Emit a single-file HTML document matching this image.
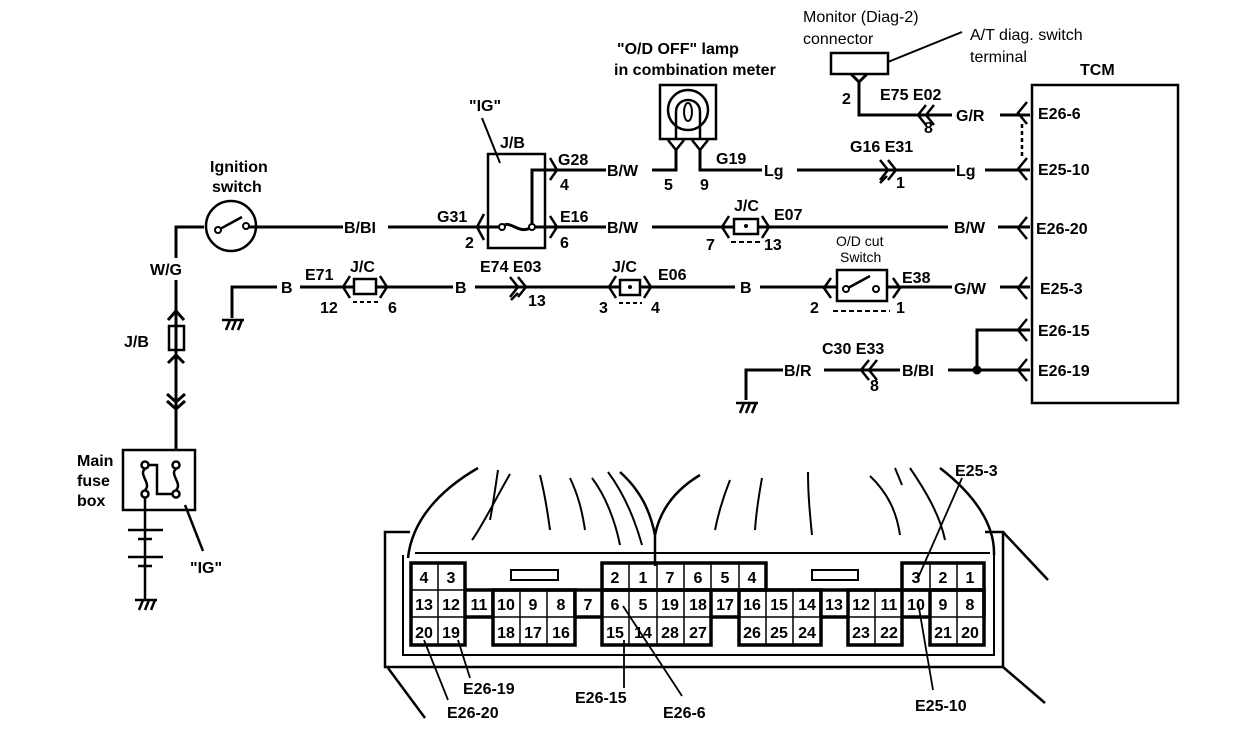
<!DOCTYPE html>
<html><head><meta charset="utf-8">
<style>
html,body{margin:0;padding:0;background:#fff;}
svg{display:block;}
text{font-family:"Liberation Sans",sans-serif;font-weight:bold;font-size:16px;fill:#000;}
.n{font-weight:normal;}
</style></head>
<body>
<svg width="1248" height="748" viewBox="0 0 1248 748" xmlns="http://www.w3.org/2000/svg">
<g fill="none" stroke="#000" stroke-width="3" stroke-linecap="butt" stroke-linejoin="miter">
<path d="M204,227 H176 V258 M176,280 V450"/>
<path d="M168,320 L176,311 L184,320 M168,363 L176,355 L184,363 M167,394 L176,402 L185,394 M167,401 L176,409 L185,401"/>
<rect x="169" y="326" width="15" height="24" stroke-width="2.5"/>
<line x1="176" y1="330" x2="176" y2="347" stroke-width="2"/>
<rect x="123" y="450" width="72" height="60" stroke-width="2.5"/>
<g stroke-width="2.5">
<circle cx="145" cy="465" r="3.5" fill="#fff"/><circle cx="145" cy="494" r="3.5" fill="#fff"/>
<circle cx="176" cy="465" r="3.5" fill="#fff"/><circle cx="176" cy="494" r="3.5" fill="#fff"/>
<path d="M145,469 C138,474 152,484 145,490 M176,469 C169,474 183,484 176,490"/>
<path d="M149,465 H157 V494 H172"/>
<path d="M145,498 V600"/>
<path d="M128,530 H163 M138,539 H152 M128,557 H163 M138,566 H152"/>
<path d="M185,505 L203,551"/>
</g>
<circle cx="231" cy="226" r="25" stroke-width="2.5"/>
<circle cx="218" cy="230" r="3" fill="#fff" stroke-width="2"/><circle cx="246" cy="226" r="3" fill="#fff" stroke-width="2"/>
<line x1="220" y1="229" x2="242" y2="217" stroke-width="2.5"/>
<path d="M249,227 H343 M388,227 H502"/>
<rect x="488" y="154" width="57" height="94" stroke-width="2.5"/>
<path d="M482,118 L500,163" stroke-width="2"/>
<path d="M532,227 V170 H606 M652,170 H676 V150 M700,150 V170 H762 M797,170 H955 M985,170 H1030"/>
<path d="M502,227 C510,218 518,236 532,227 M532,227 H606 M652,227 H948 M998,227 H1030" stroke-width="3"/>
<circle cx="502" cy="227" r="3" fill="#fff" stroke-width="2"/><circle cx="532" cy="227" r="3" fill="#fff" stroke-width="2"/>
<path d="M484,214 L477,227 L484,240" stroke-width="2.5"/>
<path d="M550,158 L557,170 L550,180 M550,216 L557,227 L550,238" stroke-width="2.5"/>
<rect x="660" y="85" width="56" height="54" stroke-width="2.5"/>
<circle cx="688" cy="110" r="20" stroke-width="2.5"/>
<path d="M676,139 V112 C676,96 700,96 700,112 V139" stroke-width="2.5"/>
<ellipse cx="688" cy="112" rx="4" ry="9" stroke-width="2"/>
<path d="M668,140 L676,150 L684,140 M692,140 L700,150 L708,140" stroke-width="2.5"/>
<path d="M880,160 L888,170 L880,180 M888,160 L896,170 L888,180 M880,183 L887,176" stroke-width="2.5"/>
<rect x="831" y="53" width="57" height="21" stroke-width="2.5"/>
<path d="M888,62 L962,32" stroke-width="2"/>
<path d="M851,74 L859,82 L867,74 M859,80 V115 H952 M1000,115 H1030"/>
<path d="M926,105 L918,115 L926,125 M934,105 L926,115 L934,125" stroke-width="2.5"/>
<rect x="1032" y="85" width="146" height="318" stroke-width="2.5"/>
<g stroke-width="2.5">
<path d="M1027,102 L1018,113 L1027,124 M1027,158 L1018,169 L1027,180 M1027,217 L1018,228 L1027,239 M1027,277 L1018,288 L1027,299 M1027,319 L1018,330 L1027,341 M1027,359 L1018,370 L1027,381"/>
<path d="M1022,124 V158" stroke-dasharray="4,3"/>
</g>
<rect x="734" y="219" width="24" height="15" fill="#fff" stroke-width="2.5"/>
<circle cx="746" cy="226" r="2" fill="#000" stroke="none"/>
<path d="M729,216 L722,227 L729,238 M762,216 L769,227 L762,238" stroke-width="2.5"/>
<path d="M731,242 H760" stroke-dasharray="5,3" stroke-width="2"/>
<path d="M232,318 V287 H277 M300,287 H453 M475,287 H735 M760,287 H838 M880,287 H952 M1000,287 H1030"/>
<rect x="354" y="279" width="22" height="15" fill="#fff" stroke-width="2.5"/>
<path d="M350,276 L343,287 L350,298 M380,276 L387,287 L380,298" stroke-width="2.5"/>
<path d="M353,302 H378" stroke-dasharray="4,3" stroke-width="2"/>
<path d="M510,277 L518,287 L510,297 M518,277 L526,287 L518,297 M511,300 L518,293" stroke-width="2.5"/>
<rect x="620" y="280" width="20" height="15" fill="#fff" stroke-width="2.5"/>
<circle cx="630" cy="287" r="2" fill="#000" stroke="none"/>
<path d="M616,276 L609,287 L616,298 M644,276 L651,287 L644,298" stroke-width="2.5"/>
<path d="M619,303 H642" stroke-dasharray="4,3" stroke-width="2"/>
<rect x="837" y="270" width="50" height="31" fill="#fff" stroke-width="2.5"/>
<circle cx="846" cy="289" r="3" fill="#fff" stroke-width="2"/><circle cx="876" cy="289" r="3" fill="#fff" stroke-width="2"/>
<line x1="848" y1="288" x2="870" y2="276" stroke-width="2.5"/>
<path d="M831,278 L824,288 L831,298 M893,278 L900,288 L893,298" stroke-width="2.5"/>
<path d="M833,311 H890" stroke-dasharray="5,3" stroke-width="2"/>
<path d="M746,400 V370 H783 M824,370 H900 M948,370 H1030 M977,370 V330 H1030"/>
<circle cx="977" cy="370" r="3" fill="#000"/>
<path d="M869,360 L861,370 L869,380 M877,360 L869,370 L877,380" stroke-width="2.5"/>
<g stroke-width="2.5">
<path d="M222,320 H244 M226,330 L230,320 M232,330 L236,320 M238,330 L242,320"/>
<path d="M135,600 H157 M139,610 L143,600 M145,610 L149,600 M151,610 L155,600"/>
<path d="M736,403 H758 M740,413 L744,403 M746,413 L750,403 M752,413 L756,403"/>
</g>
</g>

<text x="210" y="172">Ignition</text>
<text x="212" y="192">switch</text>
<text x="150" y="275">W/G</text>
<text x="124" y="347">J/B</text>
<text x="77" y="466">Main</text>
<text x="77" y="486">fuse</text>
<text x="77" y="506">box</text>
<text x="190" y="573">"IG"</text>
<text x="344" y="233">B/BI</text>
<text x="469" y="111">"IG"</text>
<text x="500" y="148">J/B</text>
<text x="437" y="222">G31</text>
<text x="465" y="248">2</text>
<text x="558" y="165">G28</text>
<text x="560" y="190">4</text>
<text x="560" y="222">E16</text>
<text x="560" y="248">6</text>
<text x="607" y="176">B/W</text>
<text x="607" y="233">B/W</text>
<text x="664" y="190">5</text>
<text x="700" y="190">9</text>
<text x="716" y="164">G19</text>
<text x="617" y="54">"O/D OFF" lamp</text>
<text x="614" y="75">in combination meter</text>
<text x="764" y="176">Lg</text>
<text x="850" y="152">G16 E31</text>
<text x="896" y="188">1</text>
<text x="956" y="176">Lg</text>
<text x="803" y="22" class="n">Monitor (Diag-2)</text>
<text x="803" y="44" class="n">connector</text>
<text x="970" y="40" class="n">A/T diag. switch</text>
<text x="970" y="62" class="n">terminal</text>
<text x="842" y="104">2</text>
<text x="880" y="100">E75 E02</text>
<text x="924" y="133">8</text>
<text x="956" y="121">G/R</text>
<text x="1080" y="75">TCM</text>
<text x="1038" y="119">E26-6</text>
<text x="1038" y="175">E25-10</text>
<text x="1036" y="234">E26-20</text>
<text x="1040" y="294">E25-3</text>
<text x="1038" y="336">E26-15</text>
<text x="1038" y="376">E26-19</text>
<text x="734" y="211">J/C</text>
<text x="774" y="220">E07</text>
<text x="706" y="250">7</text>
<text x="764" y="250">13</text>
<text x="954" y="233">B/W</text>
<text x="281" y="293">B</text>
<text x="305" y="280">E71</text>
<text x="350" y="272">J/C</text>
<text x="320" y="313">12</text>
<text x="388" y="313">6</text>
<text x="455" y="293">B</text>
<text x="480" y="272">E74 E03</text>
<text x="528" y="306">13</text>
<text x="612" y="272">J/C</text>
<text x="658" y="280">E06</text>
<text x="599" y="313">3</text>
<text x="651" y="313">4</text>
<text x="740" y="293">B</text>
<text x="836" y="246" class="n" style="font-size:14px">O/D cut</text>
<text x="840" y="262" class="n" style="font-size:14px">Switch</text>
<text x="810" y="313">2</text>
<text x="896" y="313">1</text>
<text x="902" y="283">E38</text>
<text x="954" y="294">G/W</text>
<text x="822" y="354">C30 E33</text>
<text x="784" y="376">B/R</text>
<text x="870" y="391">8</text>
<text x="902" y="376">B/BI</text>

<g fill="none" stroke="#000" stroke-width="2.5">
<path d="M410,532 H385 V667 H1003 V532 H985"/>
<path d="M403,555 V655 H994 V553" stroke-width="2"/>
<path d="M415,553 H990" stroke-width="2"/>
<path d="M388,668 L425,718 M1003,667 L1045,703 M1003,532 L1048,580"/>
<path d="M478,468 C440,490 412,520 408,558"/>
<path d="M498,470 C495,490 493,505 490,520" stroke-width="2"/>
<path d="M510,474 C495,500 480,530 472,540" stroke-width="2"/>
<path d="M540,475 C545,495 548,515 550,530" stroke-width="2"/>
<path d="M570,478 C578,495 582,510 585,530" stroke-width="2"/>
<path d="M592,478 C605,495 615,520 620,545" stroke-width="2"/>
<path d="M608,472 C625,495 635,520 642,545" stroke-width="2"/>
<path d="M620,472 C640,490 650,510 655,535 V566"/>
<path d="M700,475 C675,490 660,510 655,535"/>
<path d="M730,480 C722,500 718,515 715,530" stroke-width="2"/>
<path d="M762,478 C758,500 756,515 755,530" stroke-width="2"/>
<path d="M808,472 C808,495 810,515 812,535" stroke-width="2"/>
<path d="M870,476 C890,495 897,515 900,535" stroke-width="2"/>
<path d="M895,468 L902,485" stroke-width="2"/>
<path d="M910,468 C925,490 940,515 945,540" stroke-width="2"/>
<path d="M940,468 C975,495 995,525 994,555"/>
<rect x="511" y="570" width="47" height="10" stroke-width="2"/>
<rect x="812" y="570" width="46" height="10" stroke-width="2"/>
<g stroke-width="1.5">
<path d="M411,590 H984 M411,617 H984"/>
<path d="M438,563 V645 M465,590 V617 M492,590 V617 M520,590 V645 M547,590 V645 M574,590 V617 M602,590 V617 M629,563 V645 M657,563 V645 M684,563 V645 M711,563 V617 M739,563 V617 M766,590 V645 M793,590 V645 M820,590 V617 M848,590 V617 M875,590 V645 M902,590 V617 M930,563 V617 M957,563 V645"/>
</g>
<g stroke-width="3.5">
<rect x="411" y="563" width="54" height="82"/>
<path d="M465,590 H984 M465,617 H493 M574,617 H602 M711,617 H739 M820,617 H848 M902,617 H930"/>
<rect x="493" y="590" width="82" height="55"/>
<rect x="602" y="563" width="164" height="27"/>
<rect x="602" y="590" width="109" height="55"/>
<rect x="739" y="590" width="82" height="55"/>
<rect x="848" y="590" width="54" height="55"/>
<rect x="902" y="563" width="82" height="27"/>
<rect x="930" y="590" width="54" height="55"/>
<path d="M984,590 V617"/>
</g>
<g stroke-width="1.8">
<path d="M962,478 L918,578"/>
<path d="M918,602 L933,690"/>
<path d="M458,640 L470,678"/>
<path d="M424,640 L448,700"/>
<path d="M624,640 V688"/>
<path d="M623,606 L682,696"/>
</g>
</g>
<g style="font-size:15px" text-anchor="middle">
<text x="424" y="583">4</text><text x="451" y="583">3</text>
<text x="615" y="583">2</text><text x="643" y="583">1</text><text x="670" y="583">7</text><text x="698" y="583">6</text><text x="725" y="583">5</text><text x="752" y="583">4</text>
<text x="916" y="583">3</text><text x="943" y="583">2</text><text x="970" y="583">1</text>
<text x="424" y="610">13</text><text x="451" y="610">12</text><text x="479" y="610">11</text><text x="506" y="610">10</text><text x="533" y="610">9</text><text x="561" y="610">8</text><text x="588" y="610">7</text><text x="615" y="610">6</text><text x="643" y="610">5</text><text x="670" y="610">19</text><text x="698" y="610">18</text><text x="725" y="610">17</text><text x="752" y="610">16</text><text x="779" y="610">15</text><text x="807" y="610">14</text><text x="834" y="610">13</text><text x="861" y="610">12</text><text x="889" y="610">11</text><text x="916" y="610">10</text><text x="943" y="610">9</text><text x="970" y="610">8</text>
<text x="424" y="638">20</text><text x="451" y="638">19</text>
<text x="506" y="638">18</text><text x="533" y="638">17</text><text x="561" y="638">16</text>
<text x="615" y="638">15</text><text x="643" y="638">14</text><text x="670" y="638">28</text><text x="698" y="638">27</text>
<text x="752" y="638">26</text><text x="779" y="638">25</text><text x="807" y="638">24</text>
<text x="861" y="638">23</text><text x="889" y="638">22</text>
<text x="943" y="638">21</text><text x="970" y="638">20</text>
</g>
<text x="955" y="476">E25-3</text>
<text x="463" y="694">E26-19</text>
<text x="447" y="718">E26-20</text>
<text x="575" y="703">E26-15</text>
<text x="663" y="718">E26-6</text>
<text x="915" y="711">E25-10</text>
</svg>
</body></html>
